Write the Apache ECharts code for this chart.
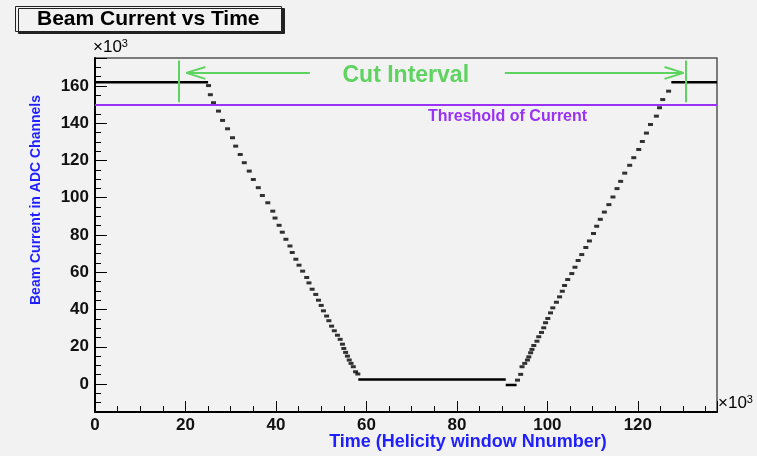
<!DOCTYPE html>
<html>
<head>
<meta charset="utf-8">
<title>Beam Current vs Time</title>
<script src="https://cdn.jsdelivr.net/npm/echarts@6/dist/echarts.min.js"></script>
<style>
  html, body { margin: 0; padding: 0; background: #f2f2f2; }
  #chart { width: 757px; height: 456px; }
</style>
</head>
<body>
<div id="chart"></div>
<script>
// axis ranges (units of 10^3)
var xRange = [0, 137.5]
var yRange = [-15, 175]
var threshold = 150

// flat parts of the beam current
var plateaus = [
  [[0, 162], [25, 162]],
  [[58.2, 2.5], [90.8, 2.5]],
  [[90.8, -0.5], [93.2, -0.5]],
  [[127.4, 162], [137.5, 162]]
]

// ramp down / ramp up points
var rampDown = [
  [25.1, 160.2], [25.5, 155.3], [26.2, 151.0], [27.3, 146.5], [28.2, 141.5], [29.3, 137.0],
  [30.4, 132.2], [31.1, 127.7], [32.1, 123.2], [33.0, 118.8], [34.1, 114.3], [35.0, 109.8],
  [36.1, 105.4], [37.0, 101.2], [38.2, 97.3], [39.3, 92.8], [39.8, 89.1], [40.7, 85.2],
  [41.4, 81.5], [42.2, 77.7], [43.1, 74.1], [43.6, 70.6], [44.4, 67.0], [45.1, 63.8],
  [45.9, 60.6], [46.8, 57.2], [47.3, 54.3], [48.0, 50.9], [48.8, 48.1], [49.4, 45.0],
  [50.0, 42.2], [50.5, 39.3], [51.2, 36.5], [51.7, 34.0], [52.3, 31.1], [52.9, 28.6],
  [53.6, 26.2], [54.2, 24.0], [54.7, 21.4], [55.0, 19.1], [55.4, 17.0], [55.8, 15.0],
  [56.2, 12.9], [56.6, 11.1], [57.1, 9.3], [57.6, 6.6], [58.1, 5.4]
]
var rampUp = [
  [93.4, 2.1], [94.1, 5.2], [94.4, 9.3], [95.0, 11.1], [95.6, 12.9], [95.9, 14.6],
  [96.3, 16.8], [96.6, 18.6], [97.0, 20.7], [97.7, 23.0], [98.1, 25.4], [98.7, 27.7],
  [99.2, 30.2], [99.6, 32.9], [100.1, 35.2], [100.7, 38.2], [101.2, 40.9], [102.0, 43.9],
  [102.7, 46.8], [103.3, 49.8], [103.8, 52.9], [104.5, 56.1], [105.4, 59.3], [106.1, 62.7],
  [106.8, 66.3], [107.6, 69.5], [108.5, 73.3], [109.3, 76.8], [110.2, 80.8], [110.9, 84.7],
  [111.7, 88.4], [112.6, 92.3], [113.6, 96.3], [114.5, 100.4], [115.4, 104.9], [116.2, 108.8],
  [117.1, 113.2], [118.2, 117.4], [119.1, 121.5], [120.2, 125.9], [121.0, 130.2], [121.9, 134.7],
  [122.8, 139.3], [124.1, 143.8], [124.8, 148.3], [125.5, 152.7], [126.8, 157.2]
]

// cut interval annotation (data coords)
var cutBounds = [18.6, 130.7]
var cutLineY = [151.3, 173.6]
var arrowY = 167
var leftArrow = [47.5, 20.2]
var rightArrow = [90.6, 130.1]
var cutLabelPos = [68.7, 165.6]
var thresholdLabelPos = [91.2, 143.6]

var green = '#5fd35f'
var purple = '#9a32f5'
var blue = '#1f1fff'
var font = 'Liberation Sans'

function seg(a, b, color, width) {
  return [{ coord: a, lineStyle: { color: color, width: width, type: 'solid' } }, { coord: b }]
}

var annotationLines = [
  seg([xRange[0], threshold], [xRange[1], threshold], purple, 2)
]
cutBounds.forEach(function (x) {
  annotationLines.push(seg([x, cutLineY[0]], [x, cutLineY[1]], green, 2))
})
annotationLines.push(seg([leftArrow[0], arrowY], [leftArrow[1], arrowY], green, 2))
annotationLines.push(seg([leftArrow[1], arrowY], [leftArrow[1] + 4.2, arrowY + 3.2], green, 2))
annotationLines.push(seg([leftArrow[1], arrowY], [leftArrow[1] + 4.2, arrowY - 3.2], green, 2))
annotationLines.push(seg([rightArrow[0], arrowY], [rightArrow[1], arrowY], green, 2))
annotationLines.push(seg([rightArrow[1], arrowY], [rightArrow[1] - 4.2, arrowY + 3.2], green, 2))
annotationLines.push(seg([rightArrow[1], arrowY], [rightArrow[1] - 4.2, arrowY - 3.2], green, 2))

var chart = echarts.init(document.getElementById('chart'))

var series = plateaus.map(function (p) {
  return {
    type: 'line',
    data: p,
    symbol: 'none',
    silent: true,
    lineStyle: { color: '#000', width: 2.5 },
    z: 3
  }
})
series.push({
  type: 'scatter',
  data: rampDown.concat(rampUp),
  symbol: 'rect',
  symbolSize: [5, 3],
  silent: true,
  itemStyle: { color: '#000' },
  z: 3,
  markLine: {
    silent: true,
    symbol: 'none',
    animation: false,
    label: { show: false },
    data: annotationLines
  },
  markPoint: {
    silent: true,
    animation: false,
    symbol: 'rect',
    symbolSize: 1,
    itemStyle: { color: 'transparent' },
    data: [
      {
        coord: cutLabelPos,
        label: {
          show: true, position: 'inside', formatter: 'Cut Interval',
          color: green, fontSize: 23, fontWeight: 'bold', fontFamily: font
        }
      },
      {
        coord: thresholdLabelPos,
        label: {
          show: true, position: 'inside', formatter: 'Threshold of Current',
          color: purple, fontSize: 16, fontWeight: 'bold', fontFamily: font
        }
      }
    ]
  }
})

var expRich = {
  a: { fontSize: 17, fontFamily: font, color: '#111' },
  b: { fontSize: 11, fontFamily: font, color: '#111', verticalAlign: 'top', padding: [0, 0, 8, 0] }
}

var option = {
  animation: false,
  backgroundColor: '#f2f2f2',
  title: {
    text: 'Beam Current vs Time',
    left: 15,
    top: 6,
    padding: [3, 22, 2, 22],
    backgroundColor: '#f2f2f2',
    borderColor: '#222',
    borderWidth: 1,
    shadowColor: '#222',
    shadowBlur: 0,
    shadowOffsetX: 3,
    shadowOffsetY: 2,
    textStyle: { color: '#000', fontSize: 21, fontWeight: 'bold', fontFamily: font }
  },
  grid: {
    left: 95,
    right: 40,
    top: 58,
    bottom: 44,
    show: true,
    borderColor: '#555',
    borderWidth: 1.5,
    backgroundColor: 'transparent'
  },
  xAxis: {
    type: 'value',
    min: xRange[0],
    max: xRange[1],
    splitNumber: 7,
    axisLine: { show: true, onZero: false, lineStyle: { color: '#000', width: 2 } },
    axisTick: { show: true, inside: true, length: 11, lineStyle: { color: '#000', width: 1 } },
    minorTick: { show: true, splitNumber: 4, length: 6, lineStyle: { color: '#000', width: 1 } },
    splitLine: { show: false },
    axisLabel: {
      color: '#111', fontSize: 17, fontWeight: 'bold', fontFamily: font, margin: 5,
      showMaxLabel: false
    }
  },
  yAxis: {
    type: 'value',
    min: yRange[0],
    max: yRange[1],
    splitNumber: 10,
    axisLine: { show: true, onZero: false, lineStyle: { color: '#000', width: 2 } },
    axisTick: { show: true, inside: true, length: 12, lineStyle: { color: '#000', width: 1 } },
    minorTick: { show: true, splitNumber: 4, length: 6, lineStyle: { color: '#000', width: 1 } },
    splitLine: { show: false },
    axisLabel: {
      color: '#111', fontSize: 17, fontWeight: 'bold', fontFamily: font, margin: 6,
      showMinLabel: false, showMaxLabel: false
    }
  },
  graphic: [
    {
      type: 'text', left: 93, top: 38,
      style: { text: '{a|×10}{b|3}', rich: expRich }
    },
    {
      type: 'text', left: 718, top: 394,
      style: { text: '{a|×10}{b|3}', rich: expRich }
    },
    {
      type: 'text', x: 36, y: 200, rotation: Math.PI / 2,
      style: {
        text: 'Beam Current in ADC Channels', fontSize: 14, fontWeight: 'bold',
        fontFamily: font, fill: blue, textAlign: 'center', textVerticalAlign: 'middle'
      }
    },
    {
      type: 'text', x: 468, y: 442,
      style: {
        text: 'Time (Helicity window Nnumber)', fontSize: 18, fontWeight: 'bold',
        fontFamily: font, fill: blue, textAlign: 'center', textVerticalAlign: 'middle'
      }
    }
  ],
  series: series
}
chart.setOption(option)
</script>
</body>
</html>
